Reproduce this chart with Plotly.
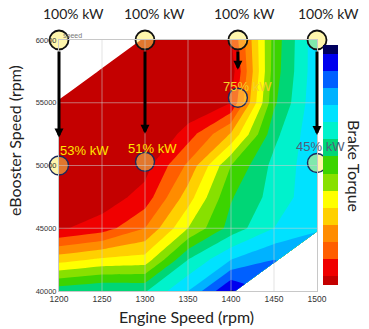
import plotly.graph_objects as go

nan = float("nan")

# ---- data ----
engine_speed = [1200, 1250, 1300, 1350, 1400, 1450, 1500]
ebooster_speed = [40000, 42500, 45000, 47500, 50000, 52500, 55000, 57500, 60000]
# brake torque level (band index, 0 = dark red band ... 14 = navy band)
torque = [
    [8.6, 9.0, 8.9, 11.0, 14.1, nan, nan],
    [4.6, 5.2, 5.4, 9.0, 11.0, 12.0, nan],
    [0.85, 1.5, 3.0, 6.0, 8.4, 10.0, 10.9],
    [-0.2, 0.4, 1.4, 4.5, 7.9, 9.4, 10.7],
    [-1.0, -0.5, 0.6, 3.2, 7.0, 9.3, 10.65],
    [-1.0, -1.0, -0.5, 1.5, 4.1, 8.7, 10.8],
    [-1.0, -1.0, -1.0, 0.0, 1.0, 7.8, 10.8],
    [nan, -1.0, -1.0, -0.5, 0.4, 7.5, 10.7],
    [nan, nan, -1.0, -1.0, 0.9, 7.4, 10.7],
]
band_colors = ["#c40000", "#f00000", "#ff5e00", "#ff8c00", "#ffd000", "#ffff00",
               "#88e000", "#3cd400", "#00d676", "#00f2cc", "#00e2ff", "#00b2ff",
               "#0060ff", "#0000ee", "#00005e"]

x_ticks = [1200, 1250, 1300, 1350, 1400, 1450, 1500]
y_ticks = [40000, 45000, 50000, 55000, 60000]

point_x = [1200, 1300, 1408, 1500]
point_top = [60000, 60000, 60000, 60000]
point_bottom = [50000, 50300, 55400, 50200]
top_labels = ["100% kW", "100% kW", "100% kW", "100% kW"]
bottom_labels = ["53% kW", "51% kW", "75% kW", "45% kW"]
bottom_label_colors = ["#ffe600", "#ffe600", "#f4d22a", "#4f6078"]
label_dx = [25, 7, 10, 3]
label_dy = [15, 13, 11, 16]
top_dx = [14, 9, 7, 11]

n = len(band_colors)
colorscale = [[i / (n - 1), c] for i, c in enumerate(band_colors)]

fig = go.Figure()
fig.add_trace(go.Contour(
    x=engine_speed, y=ebooster_speed, z=torque,
    colorscale=colorscale,
    contours=dict(start=1, end=14, size=1, coloring="fill", showlines=False),
    line=dict(width=0, smoothing=0),
    connectgaps=False,
    colorbar=dict(
        thickness=15, len=240, lenmode="pixels",
        x=1.023, xanchor="left", xpad=0,
        y=0.502, yanchor="middle", ypad=0,
        outlinewidth=0, showticklabels=False, ticks="",
    ),
    hoverinfo="skip",
))

# top and bottom circles
fig.add_trace(go.Scatter(
    x=point_x, y=point_top, mode="markers",
    marker=dict(size=19, color="rgba(255,238,90,0.5)",
                line=dict(color="#111111", width=1.8)),
    cliponaxis=False, showlegend=False, hoverinfo="skip",
))
fig.add_trace(go.Scatter(
    x=point_x, y=point_bottom, mode="markers",
    marker=dict(size=19, color="rgba(255,238,90,0.5)",
                line=dict(color="#1c2a5c", width=1.4)),
    cliponaxis=False, showlegend=False, hoverinfo="skip",
))

annotations = []
for i in range(len(point_x)):
    annotations.append(dict(
        x=point_x[i], y=point_bottom[i], ax=point_x[i], ay=point_top[i],
        xref="x", yref="y", axref="x", ayref="y",
        showarrow=True, arrowhead=2, arrowsize=0.6, arrowwidth=3,
        arrowcolor="#000000", standoff=28, startstandoff=10, text="",
    ))
    annotations.append(dict(
        x=point_x[i], y=point_bottom[i], xref="x", yref="y",
        text=bottom_labels[i], showarrow=False,
        xanchor="center", yanchor="middle",
        xshift=label_dx[i], yshift=label_dy[i],
        font=dict(family="Liberation Sans, Arial", size=13, color=bottom_label_colors[i]),
    ))
    annotations.append(dict(
        x=point_x[i], y=1.1036, xref="x", yref="paper",
        text=top_labels[i], showarrow=False, xshift=top_dx[i],
        xanchor="center", yanchor="middle",
        font=dict(family="Lato, Open Sans, sans-serif", size=14, color="#222222"),
    ))

title_font = dict(family="Lato, Open Sans, sans-serif", size=16, color="#222222")
annotations += [
    dict(x=0.496, y=-0.1, xref="paper", yref="paper", text="Engine Speed (rpm)",
         xanchor="center", yanchor="middle", showarrow=False, font=title_font),
    dict(x=-0.1705, y=0.598, xref="paper", yref="paper", text="eBooster Speed (rpm)",
         xanchor="center", yanchor="middle", textangle=-90, showarrow=False, font=title_font),
    dict(x=1.147, y=0.498, xref="paper", yref="paper", text="Brake Torque",
         xanchor="center", yanchor="middle", textangle=90, showarrow=False, font=title_font),
    dict(x=0.0, y=1.0, xref="paper", yref="paper", text="speed", xanchor="left",
         yanchor="bottom", xshift=2, yshift=-2, showarrow=False,
         font=dict(family="Liberation Sans, Arial", size=7, color="#777777")),
]

# grid lines drawn above the filled contour
grid_color = "rgba(205,205,205,0.55)"
shapes = []
for xv in x_ticks[1:-1]:
    shapes.append(dict(type="line", xref="x", yref="paper", x0=xv, x1=xv, y0=0, y1=1,
                       line=dict(color=grid_color, width=1), layer="above"))
for yv in y_ticks[1:-1]:
    shapes.append(dict(type="line", xref="paper", yref="y", x0=0, x1=1, y0=yv, y1=yv,
                       line=dict(color=grid_color, width=1), layer="above"))

fig.update_layout(
    width=369, height=329,
    margin=dict(l=59, r=52, t=40, b=38),
    paper_bgcolor="white", plot_bgcolor="white",
    showlegend=False,
    annotations=annotations,
    shapes=shapes,
    xaxis=dict(range=[1200, 1500], tickvals=x_ticks, ticktext=[str(v) for v in x_ticks],
               showgrid=False, zeroline=False, ticks="", showline=True, mirror=True,
               linecolor="#c8c8c8", linewidth=1,
               tickfont=dict(family="Liberation Sans, Arial", size=8.5, color="#333333")),
    yaxis=dict(range=[40000, 60000], tickvals=y_ticks, ticktext=[str(v) for v in y_ticks],
               showgrid=False, zeroline=False, ticks="", showline=True, mirror=True,
               linecolor="#c8c8c8", linewidth=1,
               tickfont=dict(family="Liberation Sans, Arial", size=7.5, color="#333333")),
)

fig.write_html("out.html")
